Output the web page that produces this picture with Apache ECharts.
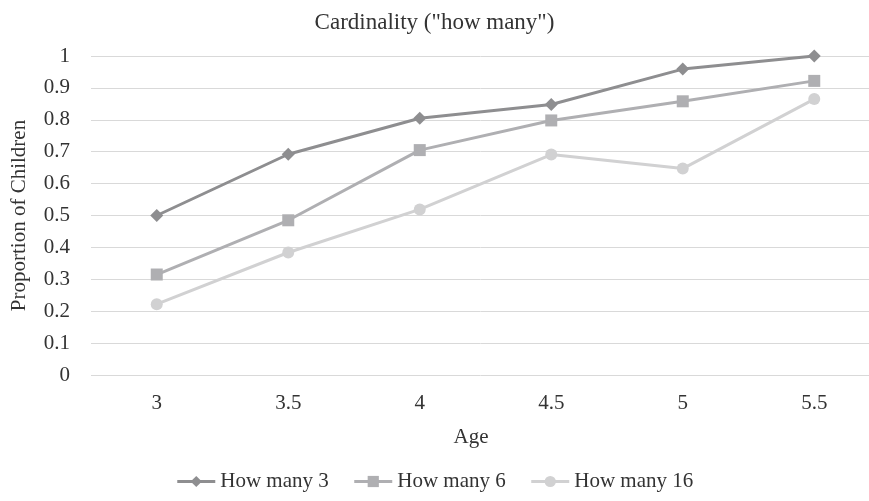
<!DOCTYPE html>
<html><head><meta charset="utf-8">
<script src="https://cdn.jsdelivr.net/npm/echarts@6/dist/echarts.min.js"></script>
<style>html,body{margin:0;padding:0;background:#fff;overflow:hidden}#c{width:869px;height:501px}</style>
</head><body><div id="c"></div>
<script>
const ages = ['3', '3.5', '4', '4.5', '5', '5.5'];
const howMany3 = [0.50, 0.692, 0.805, 0.848, 0.959, 1.0];
const howMany6 = [0.315, 0.485, 0.705, 0.798, 0.858, 0.922];
const howMany16 = [0.222, 0.384, 0.519, 0.691, 0.647, 0.865];
const yTicks = [0, 0.1, 0.2, 0.3, 0.4, 0.5, 0.6, 0.7, 0.8, 0.9, 1];

const font = 'Liberation Serif';
const fs = 21;
const chart = echarts.init(document.getElementById('c'));
function s(name, data, color, symbol, size) {
  return {
    name, type: 'line', data, symbol, symbolSize: size,
    lineStyle: { color, width: 3 }, itemStyle: { color },
    showAllSymbol: true, animation: false
  };
}
chart.setOption({
  animation: false,
  textStyle: { fontFamily: font },
  title: { text: 'Cardinality ("how many")', left: 'center', top: 6,
    textStyle: { fontFamily: font, fontSize: 23, fontWeight: 'normal', color: '#333' } },
  grid: { left: 91, top: 56, width: 789, height: 319, outerBoundsMode: 'none', containLabel: false },
  legend: { bottom: 4, left: 'center', itemWidth: 38, itemHeight: 14, itemGap: 24,
    lineStyle: { width: 3 },
    textStyle: { fontFamily: font, fontSize: fs, color: '#333' },
    data: ['How many 3', 'How many 6', 'How many 16'] },
  xAxis: { type: 'category', data: ages, name: 'Age', nameLocation: 'middle', nameGap: 52,
    nameTextStyle: { fontFamily: font, fontSize: fs, color: '#333', padding: [0, 29, 0, 0] },
    axisLine: { show: false }, axisTick: { show: false },
    axisLabel: { fontFamily: font, fontSize: fs, color: '#333', margin: 18 } },
  yAxis: { type: 'value', min: 0, max: 1, interval: 0.1,
    name: 'Proportion of Children', nameLocation: 'middle', nameGap: 61, nameRotate: 90,
    nameTextStyle: { fontFamily: font, fontSize: fs, color: '#333' },
    axisLine: { show: false }, axisTick: { show: false },
    axisLabel: { fontFamily: font, fontSize: fs, color: '#333', margin: 21,
      formatter: v => { const t = yTicks.find(x => Math.abs(x - v) < 1e-9); return t === undefined ? '' : String(t); } },
    splitLine: { lineStyle: { color: '#d9d9d9', width: 1 } } },
  series: [
    s('How many 3', howMany3, '#8e8e90', 'diamond', 13),
    s('How many 6', howMany6, '#afafb2', 'rect', 12),
    s('How many 16', howMany16, '#d1d1d2', 'circle', 12)
  ]
});
</script></body></html>
